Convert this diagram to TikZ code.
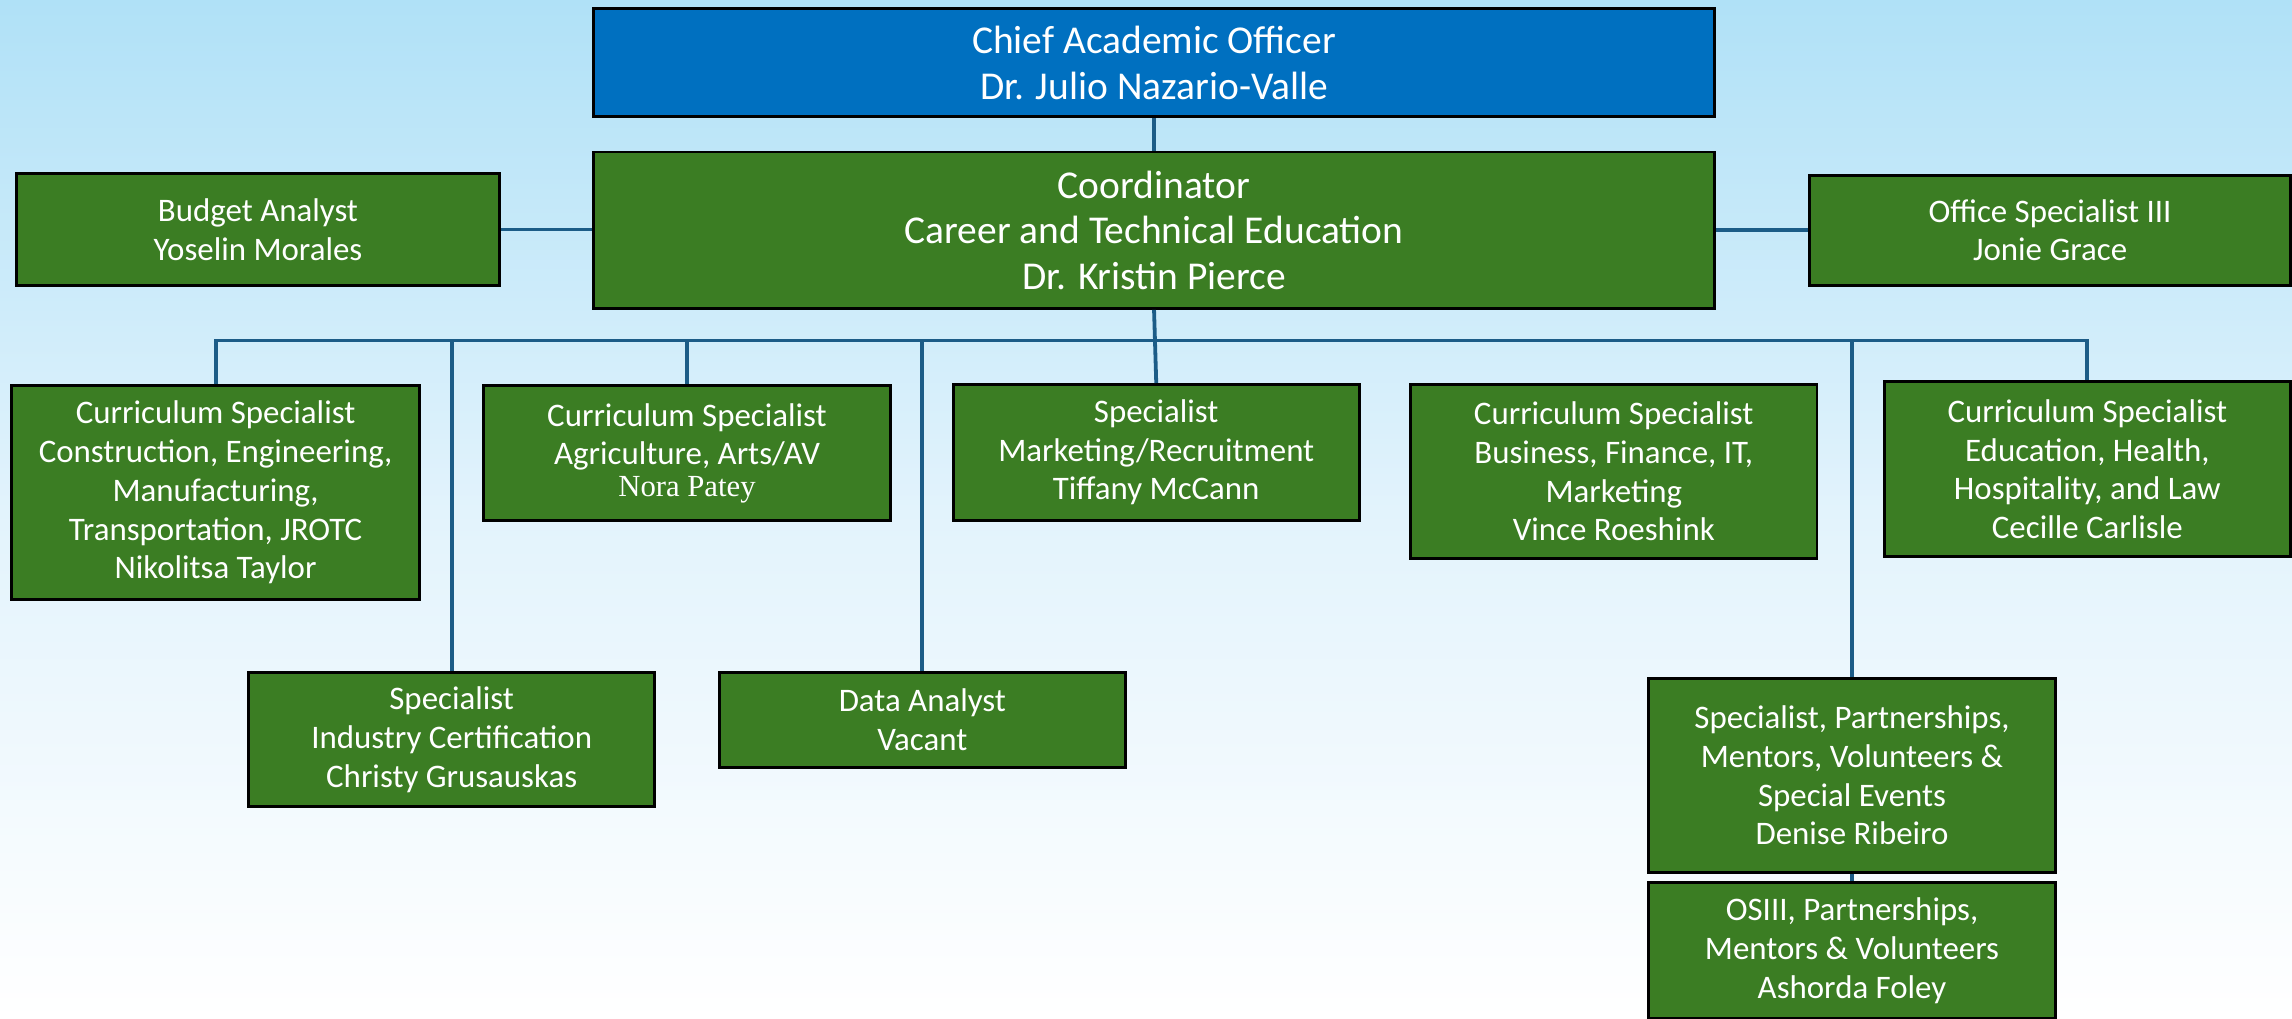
\documentclass[tikz,border=0pt]{standalone}
\usepackage{fontspec}
\setmainfont{Carlito}
\newfontfamily\serifname{Liberation Serif}
\definecolor{boxgreen}{RGB}{59,125,35}
\definecolor{boxblue}{RGB}{0,112,192}
\definecolor{linecol}{RGB}{28,92,135}
\definecolor{bgtop}{RGB}{176,225,247}
\definecolor{bgmid}{RGB}{226,243,252}
\begin{document}
\begin{tikzpicture}[x=1pt,y=-1pt,
  box/.style={draw=black, line width=2pt, fill=boxgreen, text=white, align=center,
    anchor=north west, inner sep=0pt, font=\fontsize{22.5}{26.5}\selectfont},
  bigbox/.style={box, font=\fontsize{27}{31}\selectfont},
  conn/.style={draw=linecol, line width=2.6pt}]
\shade[top color=bgtop, bottom color=white, middle color=bgmid] (0,0) rectangle (1568,697);
\useasboundingbox (0,0) rectangle (1568,697);

\node[bigbox, fill=boxblue, minimum width=767pt, minimum height=74pt] (cao) at (405,5)
  {Chief Academic Officer\\Dr. Julio Nazario-Valle};
\node[bigbox, minimum width=767pt, minimum height=107pt] (coord) at (405,103)
  {Coordinator\\Career and Technical Education\\Dr. Kristin Pierce};
\node[box, minimum width=331pt, minimum height=76pt] (budget) at (10,118)
  {Budget Analyst\\Yoselin Morales};
\node[box, minimum width=329pt, minimum height=75pt] (office) at (1237,119)
  {Office Specialist III\\Jonie Grace};

\node[box, minimum width=279pt, minimum height=146pt] (cem) at (7,263)
  {Curriculum Specialist\\Construction, Engineering,\\Manufacturing,\\Transportation, JROTC\\Nikolitsa Taylor};
\node[box, minimum width=278pt, minimum height=92pt] (agri) at (330,263)
  {Curriculum Specialist\\Agriculture, Arts/AV\\[-5pt]{\serifname\fontsize{21}{24}\selectfont Nora Patey}};
\node[box, minimum width=278pt, minimum height=93pt] (mkt) at (651,262)
  {Specialist\\Marketing/Recruitment\\Tiffany McCann};
\node[box, minimum width=278pt, minimum height=119pt] (bus) at (964,262)
  {Curriculum Specialist\\Business, Finance, IT,\\Marketing\\Vince Roeshink};
\node[box, minimum width=278pt, minimum height=120pt] (edu) at (1288,260)
  {Curriculum Specialist\\Education, Health,\\Hospitality, and Law\\Cecille Carlisle};

\node[box, minimum width=278pt, minimum height=92pt] (ind) at (169,459)
  {Specialist\\Industry Certification\\Christy Grusauskas};
\node[box, minimum width=278pt, minimum height=65pt] (data) at (491,459)
  {Data Analyst\\Vacant};
\node[box, minimum width=278pt, minimum height=133pt] (part) at (1127,463)
  {Specialist, Partnerships,\\Mentors, Volunteers \&\\Special Events\\Denise Ribeiro};
\node[box, minimum width=278pt, minimum height=93pt] (osiii) at (1127,603)
  {OSIII, Partnerships,\\Mentors \& Volunteers\\Ashorda Foley};

\coordinate (bus) at (0,233);
\draw[conn] (cao.south) -- (coord.north);
\draw[conn] (budget.east) -- (budget.east -| coord.west);
\draw[conn] (coord.east) -- (coord.east -| office.west);
\draw[conn] (cem.north) -- (cem.north |- bus) -- (edu.north |- bus) -- (edu.north);
\draw[conn] (coord.south) -- (mkt.north);
\draw[conn] (agri.north) -- (agri.north |- bus);
\draw[conn] (ind.north) -- (ind.north |- bus);
\draw[conn] (data.north) -- (data.north |- bus);
\draw[conn] (part.north) -- (part.north |- bus);
\draw[conn] (part.south) -- (osiii.north);
\end{tikzpicture}
\end{document}
